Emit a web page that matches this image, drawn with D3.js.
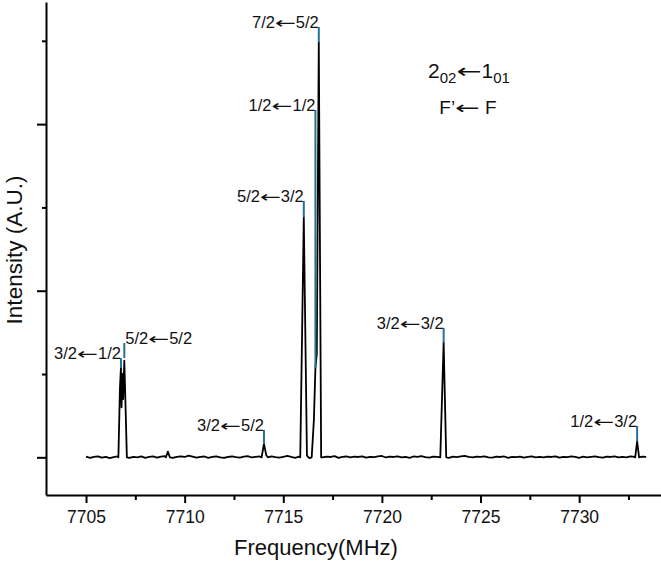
<!DOCTYPE html>
<html>
<head>
<meta charset="utf-8">
<script src="https://cdn.jsdelivr.net/npm/d3@7/dist/d3.min.js"></script>
<style>
  html, body { margin: 0; padding: 0; background: #fff; }
  svg { display: block; }
  text { font-family: "Liberation Sans", Arial, sans-serif; fill: #111; white-space: pre; }
</style>
</head>
<body>
<svg id="chart" width="661" height="568"></svg>
<script>
// ---------------- data ----------------
// baseline sampling grid of the recorded spectrum (MHz)
const gridStart = 7705.0;
const gridStep = 0.2;
// baseline noise (A.U.)
const baselineNoise = [
  0.004,-0.003,0.002,0.006,-0.002,0.003,-0.005,0.001,0.005,0.008,
  0.002,-0.004,0.003,0.000,0.006,-0.003,0.002,0.005,-0.002,0.004,
  0.007,0.001,-0.004,0.003,0.006,0.002,0.010,0.004,-0.002,0.003,
  0.005,-0.003,0.002,0.006,0.000,-0.004,0.003,0.005,0.001,-0.002,
  0.004,0.007,-0.001,0.002,0.005,-0.003,0.003,0.006,0.001,-0.002,
  0.003,0.008,0.002,-0.003,0.004,0.001,0.006,-0.002,0.003,0.005,
  -0.001,0.004,0.002,0.007,-0.003,0.003,0.005,0.000,0.004,0.002,
  0.006,-0.002,0.003,0.001,0.005,0.008,-0.001,0.004,0.002,0.006,
  0.000,0.003,-0.003,0.005,0.002,0.007,0.001,-0.002,0.004,0.003,
  0.006,0.002,-0.003,0.004,0.001,0.005,0.009,0.002,-0.001,0.004,
  0.003,0.006,0.000,-0.002,0.004,0.002,0.005,-0.003,0.003,0.001,
  0.004,-0.002,0.002,0.005,0.000,0.003,-0.001,0.004,0.002,0.006,
  -0.002,0.003,0.001,0.005,0.002,-0.003,0.004,0.000,0.003,0.006,
  0.001,-0.002,0.004,0.002,0.005,-0.001,0.003,0.000,0.006,0.002,
  -0.002,0.004,0.003
];
// line profiles [frequency MHz, intensity A.U.]
const peakA = [[7706.64,0.0],[7706.72,0.42],[7706.77,0.54],[7706.80,0.3],[7706.84,0.5],[7706.88,0.35],[7706.94,0.58],[7707.0,0.32],[7707.07,0.0]];
const peakB = [[7709.05,0.0],[7709.15,0.034],[7709.25,0.0]];
const peakC = [[7713.9,0.0],[7714.02,0.08],[7714.14,0.012],[7714.22,0.0]];
const peakD = [[7715.86,0.0],[7716.04,1.44],[7716.2,0.01],[7716.32,-0.005],[7716.44,0.0],[7716.55,0.22],[7716.63,0.54],[7716.70,0.62],[7716.80,2.49],[7716.92,0.0],[7716.98,0.0]];
const peakE = [[7722.96,0.0],[7723.13,0.69],[7723.26,0.0]];
const peakF = [[7732.84,0.0],[7732.94,0.095],[7733.04,0.0]];

// transition annotations
const labelText = ["3/2←1/2","5/2←5/2","3/2←5/2","5/2←3/2","1/2←1/2","7/2←5/2","3/2←3/2","1/2←3/2"];
const labelFreq = [7706.77,7706.94,7714.02,7716.04,7716.63,7716.80,7723.13,7732.94];
const markerTop = [0.596,0.686,0.164,1.538,2.085,2.583,0.777,0.188];
const markerBottom = [0.536,0.596,0.080,1.442,0.536,2.492,0.686,0.098];

// axis ticks
const xMajorTicks = [7705,7710,7715,7720,7725,7730];
const xMinorTicks = [7707.5,7712.5,7717.5,7722.5,7727.5,7732.5];
const yMajorTicks = [0,1,2];
const yMinorTicks = [0.5,1.5,2.5];

// ---------------- build spectrum ----------------
const peaks = [peakA,peakB,peakC,peakD,peakE,peakF];
const windows = peaks.map(p => [p[0][0], p[p.length-1][0]]);
let spectrum = [];
baselineNoise.forEach((v,i) => {
  const f = gridStart + i*gridStep;
  if (!windows.some(w => f >= w[0]-0.02 && f <= w[1]+0.02)) spectrum.push([f, v]);
});
peaks.forEach(p => p.forEach(d => spectrum.push(d)));
spectrum.sort((a,b) => a[0]-b[0]);

// ---------------- chart ----------------
const svg = d3.select("#chart");
const axisX0 = 46, axisY0 = 495;
const x = d3.scaleLinear().domain([7702.97, 7734.15]).range([axisX0, 661]);
const y = d3.scaleLinear().domain([-0.2262, 2.733]).range([axisY0, 2]);

// trace
svg.append("path")
  .datum(spectrum)
  .attr("fill","none")
  .attr("stroke","#000")
  .attr("stroke-width",1.8)
  .attr("stroke-linejoin","round")
  .attr("d", d3.line().x(d => x(d[0])).y(d => y(d[1])));

// x axis
const gx = svg.append("g").attr("transform",`translate(0,${axisY0})`);
gx.call(d3.axisBottom(x).tickValues(xMajorTicks).tickSize(8).tickSizeOuter(0).tickPadding(8).tickFormat(d3.format("d")));
gx.append("g").call(d3.axisBottom(x).tickValues(xMinorTicks).tickSize(5).tickSizeOuter(0).tickFormat(""))
  .select(".domain").remove();
gx.selectAll(".domain").attr("stroke","#000").attr("stroke-width",2);
gx.selectAll(".tick line").attr("stroke","#000").attr("stroke-width",2);
gx.selectAll(".tick text").attr("font-size","17.5px").attr("fill","#111")
  .style("font-family",'"Liberation Sans", Arial, sans-serif');

// y axis
const gy = svg.append("g").attr("transform",`translate(${axisX0},0)`);
gy.call(d3.axisLeft(y).tickValues(yMajorTicks).tickSize(9).tickSizeOuter(0).tickFormat(""));
gy.append("g").call(d3.axisLeft(y).tickValues(yMinorTicks).tickSize(4).tickSizeOuter(0).tickFormat(""))
  .select(".domain").remove();
gy.selectAll(".domain").attr("stroke","#000").attr("stroke-width",2);
gy.selectAll(".tick line").attr("stroke","#000").attr("stroke-width",2);

// axis titles
svg.append("text")
  .attr("x",316).attr("y",555)
  .attr("text-anchor","middle")
  .attr("font-size","22px")
  .text("Frequency(MHz)");
svg.append("text")
  .attr("transform","translate(22,250) rotate(-90)")
  .attr("text-anchor","middle")
  .attr("font-size","22.5px")
  .text("Intensity (A.U.)");

// text with a long thin arrow: pieces are [string, fontSize, dy] arrays
function arrowText(parent, leftPieces, rightPieces, px, py, anchor, fs, arrowEm) {
  const g = parent.append("g");
  function piecesText(pieces) {
    const t = g.append("text").attr("y", py);
    pieces.forEach(p => t.append("tspan").attr("font-size", p[1] + "px").attr("dy", p[2]).text(p[0]));
    return t;
  }
  const t1 = piecesText(leftPieces);
  const w1 = t1.node().getComputedTextLength();
  const ta = g.append("text").style("font-family", '"DejaVu Sans", sans-serif')
    .attr("font-size", (fs * 0.95) + "px").text("←");
  const wa = ta.node().getComputedTextLength();
  const target = arrowEm * fs;
  const t2 = piecesText(rightPieces);
  const w2 = t2.node().getComputedTextLength();
  const total = w1 + target + w2;
  const start = anchor === "end" ? px - total : anchor === "middle" ? px - total / 2 : px;
  t1.attr("x", start);
  ta.attr("transform", `translate(${start + w1},${py - fs * 0.02}) scale(${target / wa},1)`);
  t2.attr("x", start + w1 + target);
}

// transition markers and labels
const markerColor = "#276f96";
const labelFs = 16.5;
labelText.forEach((t,i) => {
  const mx = x(labelFreq[i]);
  svg.append("line")
    .attr("x1",mx).attr("x2",mx)
    .attr("y1",y(markerTop[i])).attr("y2",y(markerBottom[i]))
    .attr("stroke",markerColor).attr("stroke-width",2);
  const startSide = (i === 1);
  const parts = t.split("←");
  arrowText(svg, [[parts[0], labelFs, 0]], [[parts[1], labelFs, 0]],
    startSide ? mx + 1 : mx, y(markerTop[i]) + 1, startSide ? "start" : "end", labelFs, 1.27);
});

// title
arrowText(svg, [["2", 21, 0], ["02", 15, 5]], [["1", 21, 0], ["01", 15, 5]], 469, 78, "middle", 21, 1.2);
arrowText(svg, [["F’", 19, 0]], [["\u00A0F", 19, 0]], 468, 114, "middle", 19, 1.3);
</script>
</body>
</html>
